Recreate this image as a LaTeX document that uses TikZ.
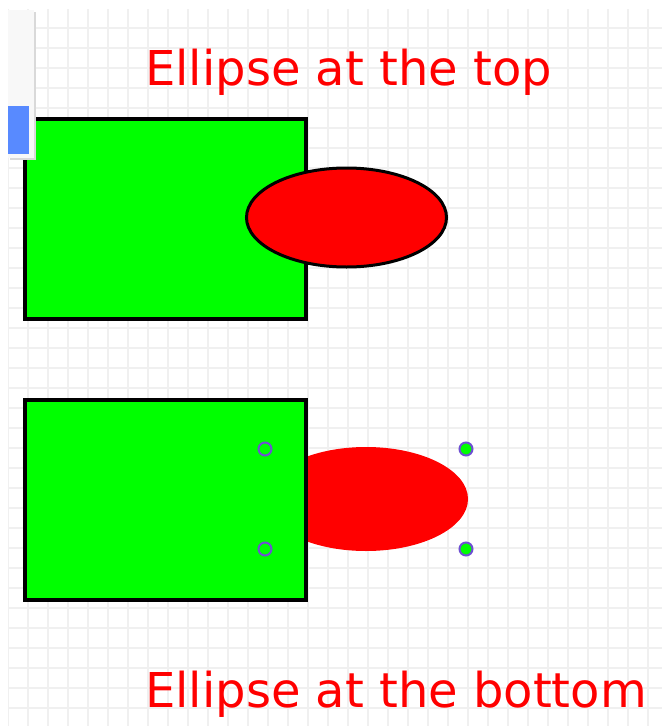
\documentclass[tikz,border=0pt]{standalone}
\usepackage{fontspec}
\setmainfont{DejaVu Sans}
\usetikzlibrary{shapes.geometric}
\definecolor{boxgreen}{RGB}{0,255,0}
\definecolor{blobred}{RGB}{255,0,0}
\definecolor{gridgray}{RGB}{240,240,240}
\definecolor{handleblue}{RGB}{110,80,210}
\definecolor{barblue}{RGB}{88,138,255}
\definecolor{panelgray}{RGB}{248,248,248}

\tikzset{
  gridline/.style={gridgray,line width=1.3pt},
  greenbox/.style={rectangle,draw=black,fill=boxgreen,line width=3.2pt,
    minimum width=281pt,minimum height=200pt,inner sep=0pt},
  redblob/.style={ellipse,fill=blobred,inner sep=0pt},
  handle/.style={circle,draw=handleblue,fill=boxgreen,line width=2pt,
    minimum size=13pt,inner sep=0pt},
  caption/.style={blobred,anchor=base west,inner sep=0pt,
    font=\fontsize{48}{56}\selectfont}
}

\begin{document}
\begin{tikzpicture}[x=1pt,y=-1pt]
  \useasboundingbox (0,0) rectangle (662,726);
  % background grid
  \begin{scope}
    \clip (8,9) rectangle (662,726);
    \foreach \gx in {8,28,...,648} \draw[gridline] (\gx,9) -- (\gx,726);
    \foreach \gy in {8,28,...,708} \draw[gridline] (8,\gy) -- (662,\gy);
  \end{scope}
  % captions
  \node[caption] (captop) at (145,85) {Ellipse at the top};
  \node[caption] (capbottom) at (145,707) {Ellipse at the bottom};
  % top pair: ellipse over the box
  \node[greenbox] (boxtop) at (165.5,219) {};
  \node[redblob,draw=black,line width=3pt,minimum width=200pt,minimum height=99pt]
    (blobtop) at (346.5,217.5) {};
  % bottom pair: ellipse under the box
  \node[redblob,minimum width=204pt,minimum height=104pt] (blobbottom) at (366,499) {};
  \node[greenbox] (boxbottom) at (165.5,500) {};
  % selection handles
  \node[handle] (hnw) at (265,449) {};
  \node[handle] (hsw) at (265,549) {};
  \node[handle] (hne) at (466,449) {};
  \node[handle] (hse) at (466,549) {};
  % side panel
  \fill[gray!30] (9.5,11.5) rectangle (35.5,159.5);
  \fill[panelgray] (8,10) rectangle (34,158);
  \fill[barblue] (8,106) rectangle (29,154);
\end{tikzpicture}
\end{document}
